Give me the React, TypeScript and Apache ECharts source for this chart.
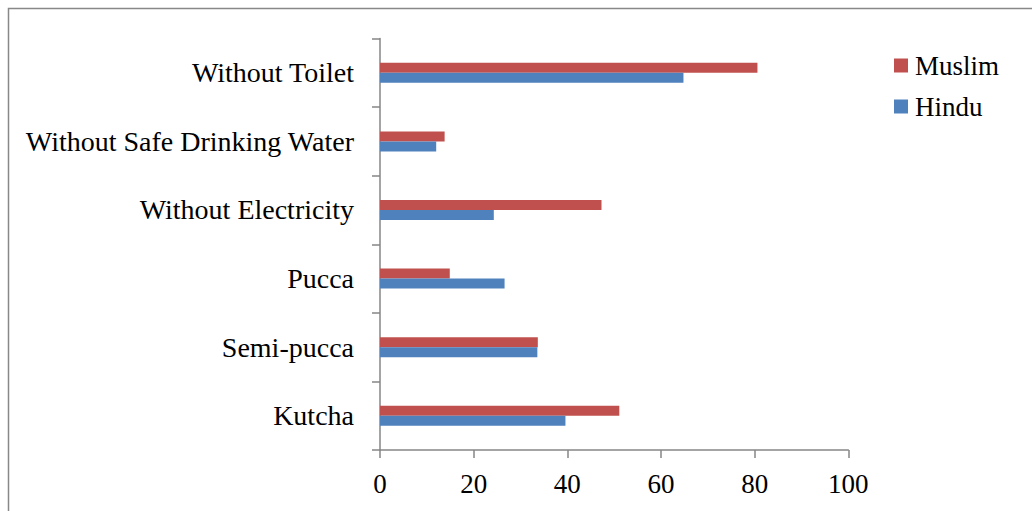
import React, { useEffect, useRef } from "react";
import * as echarts from "echarts";

const categories = [
  "Kutcha",
  "Semi-pucca",
  "Pucca",
  "Without Electricity",
  "Without Safe Drinking Water",
  "Without Toilet",
];
const hindu = [39.6, 33.6, 26.6, 24.3, 12.0, 64.8];
const muslim = [51.1, 33.7, 14.9, 47.3, 13.8, 80.6];
const xTicks = [0, 20, 40, 60, 80, 100];

const FONT = "'Liberation Serif', 'DejaVu Serif', serif";
const AXIS_COLOR = "#868686";

export default function App() {
  const ref = useRef<HTMLDivElement>(null);
  useEffect(() => {
    if (!ref.current) return;
    const chart = echarts.init(ref.current, undefined, { renderer: "svg" });
    chart.setOption({
      animation: false,
      backgroundColor: "#ffffff",
      textStyle: { fontFamily: FONT },
      graphic: [
        {
          type: "rect",
          shape: { x: 8.5, y: 8.5, width: 1100, height: 600 },
          style: { fill: "none", stroke: "#888888", lineWidth: 1.5 },
          silent: true,
        },
      ],
      grid: { left: 380, right: 183.7, top: 38.5, bottom: 61, containLabel: false },
      legend: {
        orient: "vertical",
        left: 894,
        top: 52,
        padding: 0,
        itemWidth: 14,
        itemHeight: 14,
        itemGap: 14,
        icon: "rect",
        data: ["Muslim", "Hindu"],
        textStyle: { fontFamily: FONT, fontSize: 27, color: "#000", padding: [0, 0, 0, 2] },
      },
      xAxis: {
        type: "value",
        min: xTicks[0],
        max: xTicks[xTicks.length - 1],
        interval: 20,
        splitLine: { show: false },
        axisLine: { show: true, lineStyle: { color: AXIS_COLOR, width: 1.5 } },
        axisTick: { show: true, length: 8, lineStyle: { color: AXIS_COLOR, width: 1.5 } },
        axisLabel: { fontFamily: FONT, fontSize: 27, color: "#000", margin: 20 },
      },
      yAxis: {
        type: "category",
        data: categories,
        axisLine: { show: true, lineStyle: { color: AXIS_COLOR, width: 1.5 } },
        axisTick: { show: true, length: 8, lineStyle: { color: AXIS_COLOR, width: 1.5 } },
        axisLabel: { fontFamily: FONT, fontSize: 28, color: "#000", margin: 26 },
      },
      series: [
        {
          name: "Muslim",
          type: "bar",
          data: muslim,
          barWidth: 10,
          barGap: "0%",
          itemStyle: { color: "#C0504D" },
        },
        {
          name: "Hindu",
          type: "bar",
          data: hindu,
          barWidth: 10,
          barGap: "0%",
          itemStyle: { color: "#4F81BD" },
        },
      ],
    });
    return () => chart.dispose();
  }, []);
  return (
    <div
      ref={ref}
      style={{ position: "fixed", left: 0, top: 0, width: 1032, height: 511 }}
    />
  );
}
